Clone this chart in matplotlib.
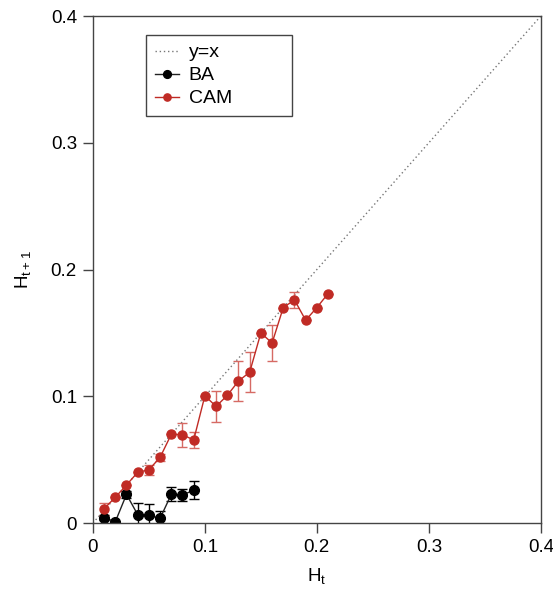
import matplotlib
matplotlib.use("Agg")
import matplotlib.pyplot as plt
import numpy as np

plt.rcParams['font.family'] = ['Liberation Sans', 'DejaVu Sans']
plt.rcParams['font.size'] = 13.5

ba_x = [0.01, 0.02, 0.03, 0.04, 0.05, 0.06, 0.07, 0.08, 0.09]
ba_y = [0.0042, 0.001, 0.0226, 0.0066, 0.006, 0.0037, 0.0226, 0.022, 0.026]
ba_err = [0.002, 0.0, 0.003, 0.009, 0.009, 0.006, 0.0055, 0.005, 0.007]

cam_x = [0.01, 0.02, 0.03, 0.04, 0.05, 0.06, 0.07, 0.08, 0.09, 0.10, 0.11,
         0.12, 0.13, 0.14, 0.15, 0.16, 0.17, 0.18, 0.19, 0.20, 0.21]
cam_y = [0.0113, 0.0203, 0.030, 0.040, 0.042, 0.0518, 0.070, 0.0697, 0.0655,
         0.1004, 0.092, 0.1007, 0.112, 0.119, 0.150, 0.142, 0.170, 0.176,
         0.160, 0.170, 0.181]
cam_err = [0.0046, 0.0, 0.0, 0.0, 0.004, 0.003, 0.0, 0.0095, 0.0063,
           0.0, 0.012, 0.0, 0.016, 0.016, 0.0, 0.014, 0.0, 0.006,
           0.0, 0.0, 0.0]

ticks = [0, 0.1, 0.2, 0.3, 0.4]
tick_labels = ['0', '0.1', '0.2', '0.3', '0.4']

fig = plt.figure(figsize=(5.53, 5.93), dpi=100)
ax = fig.add_axes([0.168, 0.118, 0.81, 0.855])

red = '#c02b25'
spine_col = '#444444'
l0, = ax.plot([0, 0.4], [0, 0.4], linestyle=(0, (1, 2)), color='#777777', lw=1.0, label='y=x')
eb1 = ax.errorbar(ba_x, ba_y, yerr=ba_err, color='#222222', lw=1.0, marker='o', ms=7,
                  mfc='black', mec='black', ecolor='black', elinewidth=1.0, capsize=3.5,
                  label='BA')
eb2 = ax.errorbar(cam_x, cam_y, yerr=cam_err, color=red, lw=1.0, marker='o', ms=6.5,
                  mfc=red, mec=red, ecolor='#d66a64', elinewidth=1.0, capsize=3.5,
                  label='CAM')

ax.set_xlim(0, 0.4)
ax.set_ylim(0, 0.4)
ax.set_xticks(ticks)
ax.set_xticklabels(tick_labels)
ax.set_yticks(ticks)
ax.set_yticklabels(tick_labels)
ax.tick_params(direction='out', length=7.5, width=1.0, pad=4, color=spine_col)
for s in ax.spines.values():
    s.set_linewidth(1.0)
    s.set_color(spine_col)

ax.set_xlabel(r'H$_\mathregular{t}$', labelpad=8)
ax.set_ylabel(r'H$_\mathregular{t+1}$', labelpad=12)

leg = ax.legend([l0, eb1[0], eb2[0]], ['y=x', 'BA', 'CAM'], loc='upper left',
                bbox_to_anchor=(0.118, 0.70, 0.326, 0.2625), mode='expand',
                frameon=True, fancybox=False, edgecolor='#444444', framealpha=1,
                handlelength=1.25, handletextpad=0.5, borderpad=0.45,
                labelspacing=0.28, markerscale=0.8, borderaxespad=0,
                prop={'size': 14})
leg.get_frame().set_linewidth(1.0)

fig.savefig('out.png', dpi=100)
